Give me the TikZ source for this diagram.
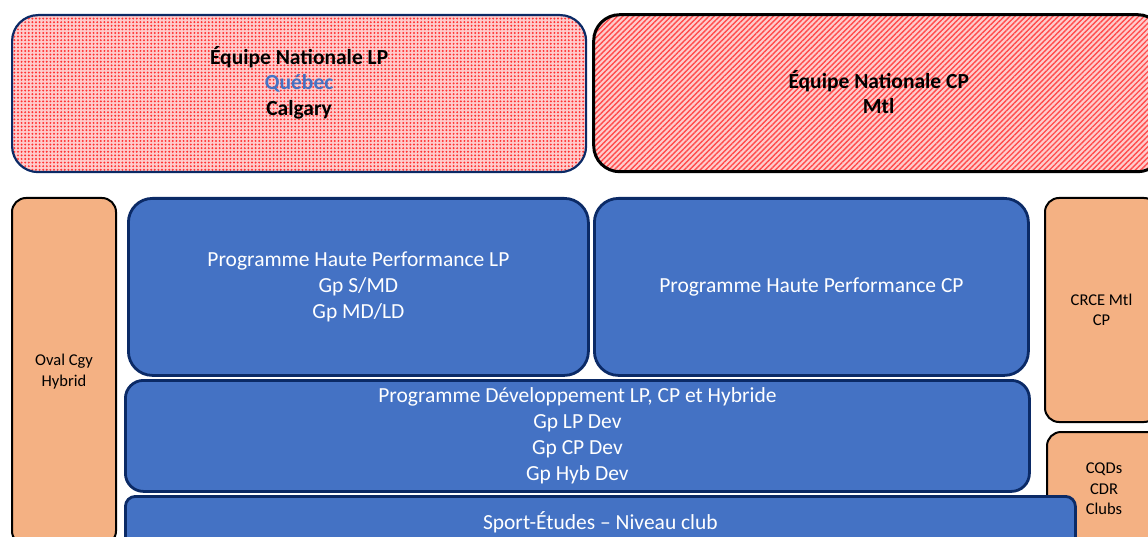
\documentclass[tikz,border=0pt]{standalone}
\usepackage{fontspec}
\setmainfont{Carlito}
\usetikzlibrary{patterns.meta}
\definecolor{navy}{HTML}{0B2A66}
\definecolor{boxblue}{HTML}{4472C4}
\definecolor{peach}{HTML}{F4B183}
\begin{document}
\begin{tikzpicture}[x=1pt,y=-1pt,
  base/.style={anchor=north west, align=center, inner sep=0pt},
  bluebox/.style={base, fill=boxblue, draw=navy, line width=2.8pt, text=white,
    font=\fontsize{21.5}{26}\selectfont, rounded corners=24pt},
  peachbox/.style={base, fill=peach, draw=black, line width=2pt, text=black,
    font=\fontsize{16.5}{20.5}\selectfont, rounded corners=14pt},
  natbox/.style={base, rounded corners=26pt, font=\fontsize{21}{26}\selectfont\bfseries}
]
\useasboundingbox (0,0) rectangle (1148,537);
\clip (0,0) rectangle (1148,537);
\node[natbox, draw=navy, line width=2.2pt, preaction={fill=red!20},
      pattern={Dots[radius=1.1pt, distance=3.6pt]}, pattern color=red!80,
      minimum width=574pt, minimum height=157pt] (enlp) at (11,14) {};
\node[font=\fontsize{21.5}{25.5}\selectfont\bfseries, align=center] (enlpt) at ([yshift=11pt]enlp.center)
  {Équipe Nationale LP\\ \textcolor{boxblue}{Québec}\\ Calgary};
\node[natbox, draw=black, line width=3pt, preaction={fill=red!20},
      pattern={Lines[angle=45, distance=3.8pt, line width=1.4pt]}, pattern color=red!70,
      minimum width=570pt, minimum height=157pt] (encp) at (593,14) {};
\node[font=\fontsize{21.5}{25}\selectfont\bfseries, align=center] (encpt) at ([yshift=1pt]encp.center)
  {Équipe Nationale CP\\ Mtl};
\node[peachbox, minimum width=104pt, minimum height=347pt] (oval) at (11,197) {Oval Cgy\\ Hybrid};
\node[bluebox, minimum width=460pt, minimum height=177pt] (phplp) at (127,197)
  {Programme Haute Performance LP\\ Gp S/MD\\ Gp MD/LD};
\node[bluebox, minimum width=434pt, minimum height=177pt] (phpcp) at (593,197)
  {Programme Haute Performance CP};
\node[bluebox, rounded corners=18pt, minimum width=904pt, minimum height=111pt] (dev) at (124,379)
  {Programme Développement LP, CP et Hybride\\ Gp LP Dev\\ Gp CP Dev\\ Gp Hyb Dev};
\node[peachbox, minimum width=113pt, minimum height=224pt] (crce) at (1044,197) {CRCE Mtl\\ CP};
\node[peachbox, minimum width=114pt, minimum height=114pt] (cqd) at (1046,431) {CQDs\\ CDR\\ Clubs};
\node[bluebox, rounded corners=10pt, minimum width=950pt, minimum height=51pt] (sport) at (124,495)
  {Sport-Études – Niveau club};
\end{tikzpicture}
\end{document}
